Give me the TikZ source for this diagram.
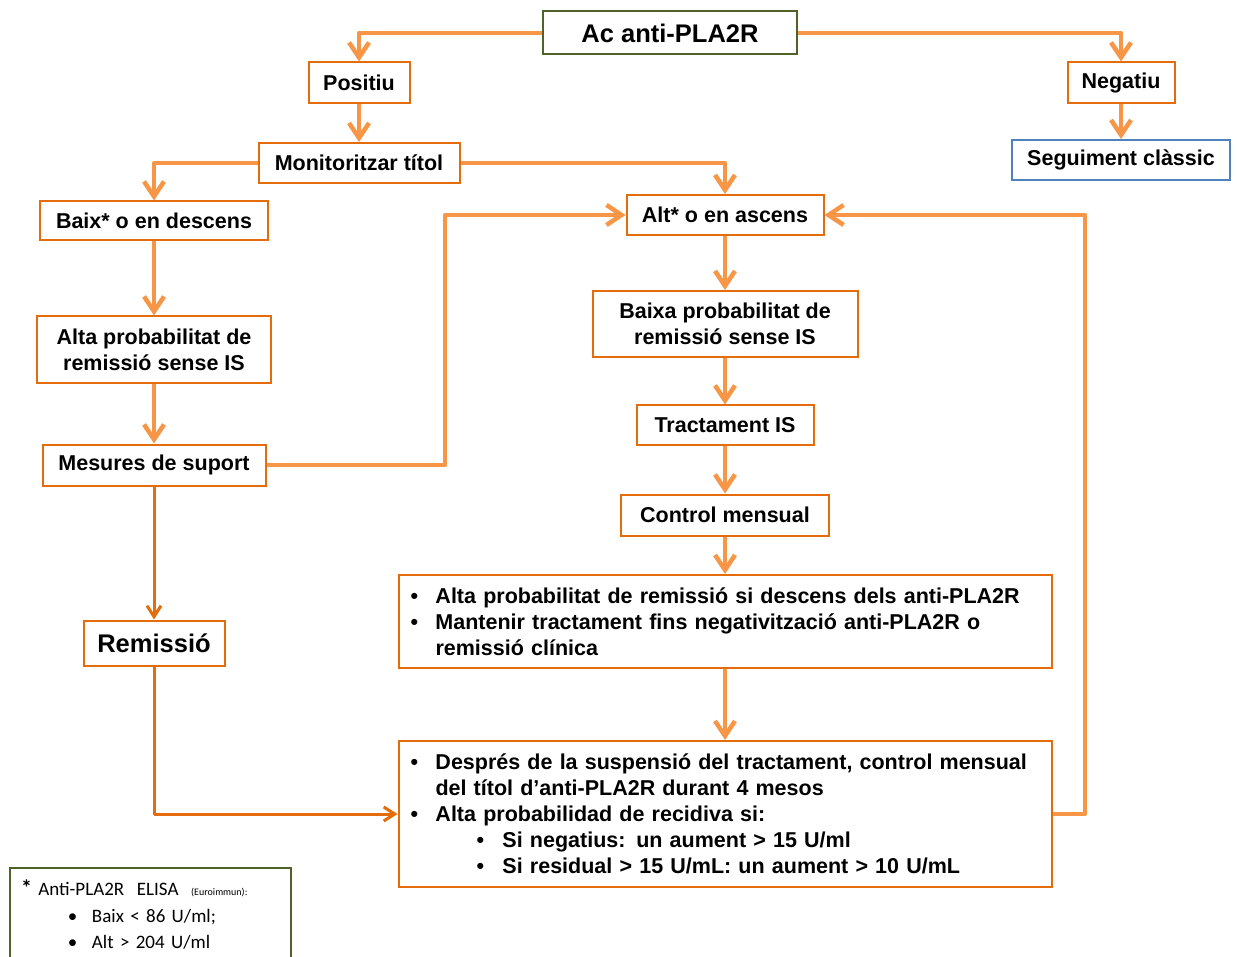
\documentclass[tikz,border=0pt]{standalone}
\usepackage{fontspec}
\setmainfont{Liberation Sans}
\newfontfamily\notefont{Carlito}
\usepackage{tikz}
\usetikzlibrary{arrows.meta}

\definecolor{lineorange}{RGB}{247,150,70}
\definecolor{boxorange}{RGB}{228,108,10}
\definecolor{darkorange}{RGB}{228,108,10}
\definecolor{notegreen}{RGB}{79,98,40}
\definecolor{segblue}{RGB}{79,129,189}

\newcommand{\bul}{\makebox[25pt][l]{\textbullet}}
\newcommand{\subbul}{\hspace*{66pt}\makebox[26pt][l]{\textbullet}}

\begin{document}
\begin{tikzpicture}[x=1pt, y=-1pt,
  box/.style={draw=boxorange, line width=2pt, fill=white, inner sep=0pt, align=center,
    font=\bfseries\fontsize{21.5}{26}\selectfont},
  bigbox/.style={box, font=\bfseries\fontsize{25.5}{30}\selectfont},
  listbox/.style={box, align=left, inner xsep=12pt, text width=629pt},
  link/.style={draw=lineorange, line width=4.5pt, line join=round,
    -{Straight Barb[length=15pt,width=20pt]}},
  dlink/.style={draw=darkorange, line width=3pt, line join=round,
    -{Straight Barb[length=11pt,width=14pt]}}]

  \useasboundingbox (0,0) rectangle (1237,957);

  % top of the tree
  \node[bigbox, draw=notegreen, minimum width=254pt, minimum height=43pt] (ac) at (670,33) {Ac anti-PLA2R};
  \node[box, minimum width=101pt, minimum height=41pt] (pos) at (359,83) {Positiu};
  \node[box, minimum width=107pt, minimum height=41pt] (neg) at (1121,83) {Negatiu};
  \node[box, draw=segblue, minimum width=218pt, minimum height=40pt] (seg) at (1121,160) {Seguiment clàssic};
  \node[box, minimum width=201pt, minimum height=40pt] (mon) at (359,163) {Monitoritzar títol};

  % left branch
  \node[box, minimum width=228pt, minimum height=39pt] (baix) at (154,221) {Baix* o en descens};
  \node[box, minimum width=234pt, minimum height=67pt] (altap) at (154,350) {Alta probabilitat de\\remissió sense IS};
  \node[box, minimum width=223pt, minimum height=41pt] (mes) at (154,465) {Mesures de suport};
  \node[bigbox, minimum width=141pt, minimum height=45pt] (rem) at (154,643) {Remissió};

  % right branch
  \node[box, minimum width=197pt, minimum height=40pt] (alt) at (725,215) {Alt* o en ascens};
  \node[box, minimum width=265pt, minimum height=66pt] (baixap) at (725,324) {Baixa probabilitat de\\remissió sense IS};
  \node[box, minimum width=177pt, minimum height=39pt] (tract) at (725,425) {Tractament IS};
  \node[box, minimum width=208pt, minimum height=41pt] (ctrl) at (725,515) {Control mensual};
  \node[listbox, minimum height=93pt] (cond) at (725,621.5) {%
    \bul Alta probabilitat de remissió si descens dels anti-PLA2R\\
    \bul Mantenir tractament fins negativització anti-PLA2R o\\
    \hspace*{25pt}remissió clínica};
  \node[listbox, minimum height=146pt] (susp) at (725,814) {%
    \bul Després de la suspensió del tractament, control mensual\\
    \hspace*{25pt}del títol d’anti-PLA2R durant 4 mesos\\
    \bul Alta probabilidad de recidiva si:\\
    \subbul Si negatius: un aument > 15 U/ml\\
    \subbul Si residual > 15 U/mL: un aument > 10 U/mL};

  % footnote
  \node[draw=notegreen, line width=2pt, anchor=north west, inner xsep=11pt, inner ysep=12pt,
    align=left, text width=259pt, text depth=75pt,
    font=\notefont\fontsize{19}{26.5}\selectfont] (note) at (9,867) {%
    {\bfseries\fontsize{22}{26}\selectfont *} Anti-PLA2R\ \ ELISA\ \ {\fontsize{10}{12}\selectfont (Euroimmun):}\\
    \hspace*{47pt}\makebox[24pt][l]{\textbullet}Baix < 86 U/ml;\\
    \hspace*{47pt}\makebox[24pt][l]{\textbullet}Alt > 204 U/ml};

  \coordinate (kneeL) at (445,215);
  \coordinate (kneeR) at (1085,215);

  \draw[link] (ac.west) -| (pos.north);
  \draw[link] (ac.east) -| (neg.north);
  \draw[link] (pos) -- (mon);
  \draw[link] (neg) -- (seg);
  \draw[link] (mon.west) -| (baix.north);
  \draw[link] (mon.east) -| (alt.north);
  \draw[link] (baix) -- (altap);
  \draw[link] (altap) -- (mes);
  \draw[link] (mes.east) -| (kneeL) -- (alt.west);
  \draw[link] (alt) -- (baixap);
  \draw[link] (baixap) -- (tract);
  \draw[link] (tract) -- (ctrl);
  \draw[link] (ctrl) -- (cond);
  \draw[link] (cond) -- (susp);
  \draw[link] (susp.east) -| (kneeR) -- (alt.east);
  \draw[dlink] (mes) -- (rem);
  \draw[dlink] (rem.south) |- (susp.west);

\end{tikzpicture}
\end{document}
